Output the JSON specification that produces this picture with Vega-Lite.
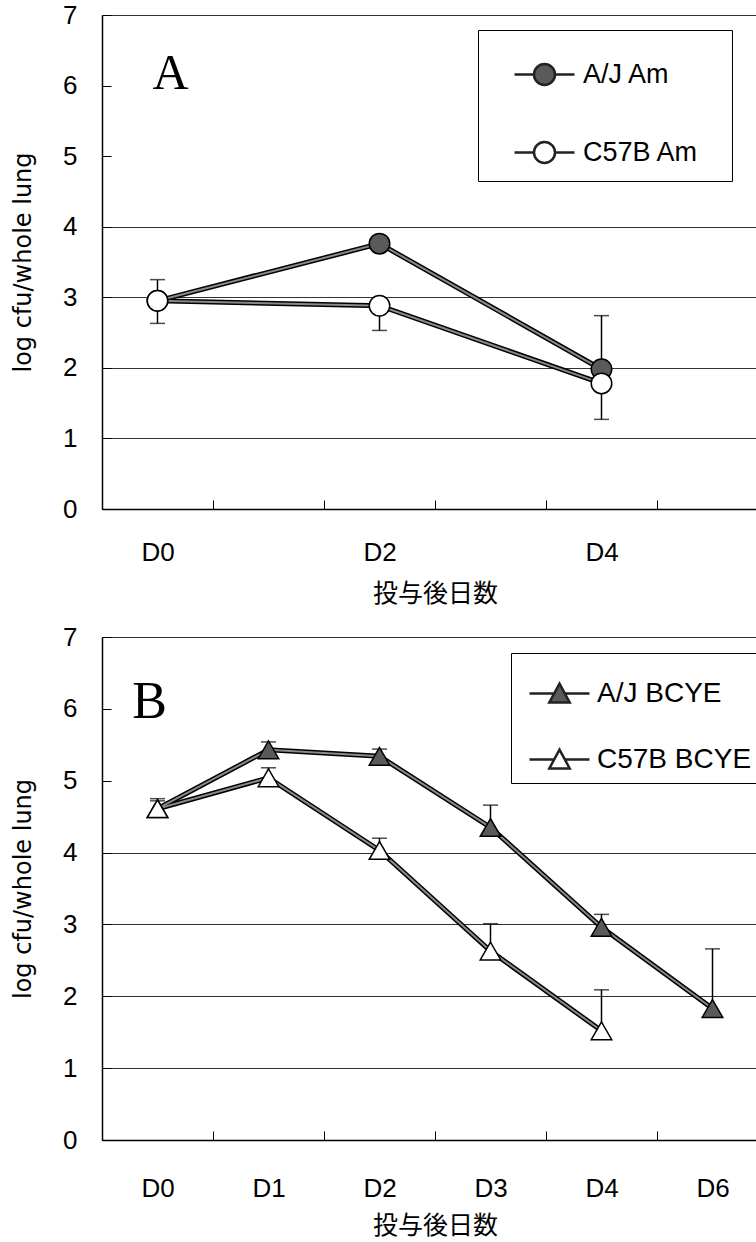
{
  "$schema": "https://vega.github.io/schema/vega-lite/v6.json",
  "padding": {"left": 11, "top": 2, "right": -12, "bottom": 5},
  "background": "white",
  "config": {
    "font": "Liberation Sans",
    "view": {"stroke": null},
    "axis": {
      "domainColor": "black",
      "domainWidth": 1.5,
      "tickColor": "black",
      "tickWidth": 1,
      "tickSize": -9,
      "labelFont": "Liberation Sans",
      "labelFontSize": 26,
      "labelColor": "black",
      "titleColor": "black",
      "titleFontWeight": "normal"
    }
  },
  "spacing": 128,
  "bounds": "flush",
  "resolve": {"scale": {"fill": "independent", "x": "independent", "y": "independent"}, "legend": {"fill": "independent"}},
  "vconcat": [
    {
      "width": 655,
      "height": 494,
      "data": {"values": [
        {"day": "D0", "series": "A/J Am", "value": 2.95, "err_end": 3.25},
        {"day": "D2", "series": "A/J Am", "value": 3.76, "err_end": 3.82},
        {"day": "D4", "series": "A/J Am", "value": 1.98, "err_end": 2.74},
        {"day": "D0", "series": "C57B Am", "value": 2.95, "err_end": 2.63},
        {"day": "D2", "series": "C57B Am", "value": 2.88, "err_end": 2.53},
        {"day": "D4", "series": "C57B Am", "value": 1.78, "err_end": 1.27}
      ]},
      "layer": [
        {
          "mark": {"type": "rule", "color": "black", "strokeWidth": 1.5},
          "encoding": {
            "x": {"field": "day", "type": "ordinal", "bandPosition": 0.5,
              "scale": {"type": "band", "domain": ["D0", "D1", "D2", "D3", "D4", "D6"], "range": [0, 666], "paddingInner": 0, "paddingOuter": 0},
              "axis": {"title": "投与後日数", "titleFont": "Noto Sans CJK JP", "titleFontSize": 25, "titlePadding": 16, "labelAngle": 0, "labelPadding": 39, "tickBand": "extent",
                "labelExpr": "datum.label == 'D1' || datum.label == 'D3' || datum.label == 'D6' ? '' : datum.label"}},
            "y": {"field": "value", "type": "quantitative",
              "scale": {"domain": [0, 7], "nice": false, "zero": true},
              "axis": {"title": "log cfu/whole lung", "titleFont": "DejaVu Sans", "titleFontSize": 24, "titlePadding": 27, "values": [0, 1, 2, 3, 4, 5, 6, 7], "format": "d", "labelPadding": 34,
                "grid": true, "gridColor": "#333", "gridWidth": 1,
                "gridOpacity": {"condition": {"test": "datum.value == 5 || datum.value == 6 || datum.value == 0", "value": 0}, "value": 1}}},
            "y2": {"field": "err_end"}
          }
        },
        {
          "mark": {"type": "tick", "color": "black", "thickness": 1.5, "size": 15, "orient": "horizontal"},
          "encoding": {
            "x": {"field": "day", "type": "ordinal", "bandPosition": 0.5},
            "y": {"field": "err_end", "type": "quantitative"}
          }
        },
        {
          "mark": {"type": "line", "color": "black", "strokeWidth": 5},
          "encoding": {
            "x": {"field": "day", "type": "ordinal", "bandPosition": 0.5},
            "y": {"field": "value", "type": "quantitative"},
            "detail": {"field": "series"}
          }
        },
        {
          "mark": {"type": "line", "color": "#8a8a8a", "strokeWidth": 2},
          "encoding": {
            "x": {"field": "day", "type": "ordinal", "bandPosition": 0.5},
            "y": {"field": "value", "type": "quantitative"},
            "detail": {"field": "series"}
          }
        },
        {
          "mark": {"type": "point", "filled": true, "shape": "circle", "size": 420, "stroke": "black", "strokeWidth": 1.5, "opacity": 1},
          "encoding": {
            "x": {"field": "day", "type": "ordinal", "bandPosition": 0.5},
            "y": {"field": "value", "type": "quantitative"},
            "fill": {"field": "series", "type": "nominal",
              "scale": {"domain": ["A/J Am", "C57B Am"], "range": ["#5a5a5a", "white"]},
              "legend": {"title": null, "orient": "none", "legendX": 376, "legendY": 15,
                "symbolType": "M-1,0H-0.35M0.35,0H1M0.35,0A0.35,0.35,0,1,1,-0.35,0A0.35,0.35,0,1,1,0.35,0Z",
                "symbolSize": 3600, "symbolStrokeColor": "#222", "symbolStrokeWidth": 2.5, "symbolOpacity": 1,
                "labelFont": "Liberation Sans", "labelFontSize": 27, "labelColor": "black", "labelLimit": 400,
                "rowPadding": 31, "padding": 13, "symbolOffset": 22, "labelOffset": 7, "strokeColor": "black",
                "labelExpr": "datum.label + '\u2800'"}}
          }
        },
        {
          "data": {"values": [{"panel": "A"}]},
          "mark": {"type": "text", "font": "Liberation Serif", "fontSize": 50, "dx": 13, "align": "center", "baseline": "middle", "color": "black"},
          "encoding": {
            "x": {"datum": "D0", "bandPosition": 0.5},
            "y": {"datum": 6.16},
            "text": {"field": "panel"}
          }
        }
      ]
    },
    {
      "width": 655,
      "height": 503,
      "data": {"values": [
        {"day": "D0", "series": "A/J BCYE", "value": 4.61, "err_end": 4.72},
        {"day": "D1", "series": "A/J BCYE", "value": 5.43, "err_end": 5.54},
        {"day": "D2", "series": "A/J BCYE", "value": 5.34, "err_end": 5.44},
        {"day": "D3", "series": "A/J BCYE", "value": 4.35, "err_end": 4.66},
        {"day": "D4", "series": "A/J BCYE", "value": 2.96, "err_end": 3.14},
        {"day": "D6", "series": "A/J BCYE", "value": 1.83, "err_end": 2.66},
        {"day": "D0", "series": "C57B BCYE", "value": 4.61, "err_end": 4.75},
        {"day": "D1", "series": "C57B BCYE", "value": 5.04, "err_end": 5.18},
        {"day": "D2", "series": "C57B BCYE", "value": 4.03, "err_end": 4.2},
        {"day": "D3", "series": "C57B BCYE", "value": 2.63, "err_end": 3.01},
        {"day": "D4", "series": "C57B BCYE", "value": 1.52, "err_end": 2.09}
      ]},
      "layer": [
        {
          "mark": {"type": "rule", "color": "black", "strokeWidth": 1.5},
          "encoding": {
            "x": {"field": "day", "type": "ordinal", "bandPosition": 0.5,
              "scale": {"type": "band", "domain": ["D0", "D1", "D2", "D3", "D4", "D6"], "range": [0, 666], "paddingInner": 0, "paddingOuter": 0},
              "axis": {"title": "投与後日数", "titleFont": "Noto Sans CJK JP", "titleFontSize": 25, "titlePadding": 12, "labelAngle": 0, "labelPadding": 44, "tickBand": "extent"}},
            "y": {"field": "value", "type": "quantitative",
              "scale": {"domain": [0, 7], "nice": false, "zero": true},
              "axis": {"title": "log cfu/whole lung", "titleFont": "DejaVu Sans", "titleFontSize": 24, "titlePadding": 27, "values": [0, 1, 2, 3, 4, 5, 6, 7], "format": "d", "labelPadding": 34,
                "grid": true, "gridColor": "#333", "gridWidth": 1,
                "gridOpacity": {"condition": {"test": "datum.value == 5 || datum.value == 6 || datum.value == 0", "value": 0}, "value": 1}}},
            "y2": {"field": "err_end"}
          }
        },
        {
          "mark": {"type": "tick", "color": "black", "thickness": 1.5, "size": 15, "orient": "horizontal"},
          "encoding": {
            "x": {"field": "day", "type": "ordinal", "bandPosition": 0.5},
            "y": {"field": "err_end", "type": "quantitative"}
          }
        },
        {
          "mark": {"type": "line", "color": "black", "strokeWidth": 5},
          "encoding": {
            "x": {"field": "day", "type": "ordinal", "bandPosition": 0.5},
            "y": {"field": "value", "type": "quantitative"},
            "detail": {"field": "series"}
          }
        },
        {
          "mark": {"type": "line", "color": "#8a8a8a", "strokeWidth": 2},
          "encoding": {
            "x": {"field": "day", "type": "ordinal", "bandPosition": 0.5},
            "y": {"field": "value", "type": "quantitative"},
            "detail": {"field": "series"}
          }
        },
        {
          "mark": {"type": "point", "filled": true, "shape": "triangle-up", "size": 420, "stroke": "black", "strokeWidth": 1.5, "opacity": 1},
          "encoding": {
            "x": {"field": "day", "type": "ordinal", "bandPosition": 0.5},
            "y": {"field": "value", "type": "quantitative"},
            "fill": {"field": "series", "type": "nominal",
              "scale": {"domain": ["A/J BCYE", "C57B BCYE"], "range": ["#5a5a5a", "white"]},
              "legend": {"title": null, "orient": "none", "legendX": 409, "legendY": 16,
                "symbolType": "M-1,0H-0.18M0.18,0H1M0,-0.33L0.34,0.3L-0.34,0.3Z",
                "symbolSize": 3600, "symbolStrokeColor": "#222", "symbolStrokeWidth": 2.5, "symbolOpacity": 1,
                "labelFont": "Liberation Sans", "labelFontSize": 28, "labelColor": "black", "labelLimit": 400,
                "rowPadding": 20, "padding": 9, "symbolOffset": 8, "labelOffset": 6, "strokeColor": "black"}}
          }
        },
        {
          "data": {"values": [{"panel": "B"}]},
          "mark": {"type": "text", "font": "Liberation Serif", "fontSize": 52, "dx": -8, "align": "center", "baseline": "middle", "color": "black"},
          "encoding": {
            "x": {"datum": "D0", "bandPosition": 0.5},
            "y": {"datum": 6.1},
            "text": {"field": "panel"}
          }
        }
      ]
    }
  ]
}
